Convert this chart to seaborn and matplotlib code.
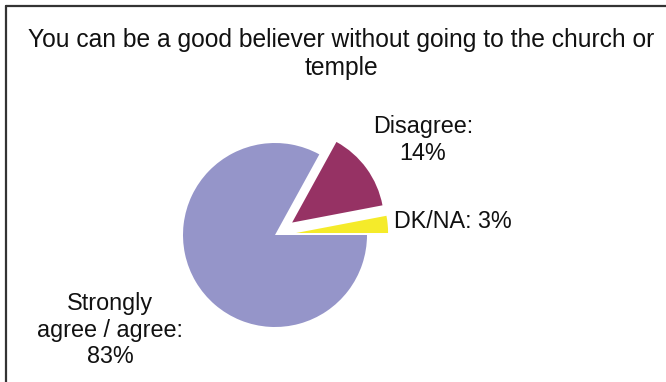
import matplotlib
matplotlib.use("Agg")
import matplotlib.pyplot as plt
from matplotlib.lines import Line2D
import seaborn as sns

# Survey answers, in drawing order (counter-clockwise from 3 o'clock)
categories = ["DK/NA", "Disagree", "Strongly\nagree / agree"]
shares = [3, 14, 83]
label_breaks = [" ", "\n", "\n"]
title = "You can be a good believer without going to the church or\ntemple"

explode_by = [0.23, 0.23, 0.0]
slice_colors = ["#F5EB2A", "#963264", "#9595C9"]

sns.set_theme(style="white")
plt.rcParams["font.family"] = ["Liberation Sans", "DejaVu Sans"]

W, H = 666, 382
fig = plt.figure(figsize=(W / 100, H / 100), dpi=100)
ax = fig.add_axes([0, 0, 1, 1])

ax.pie(
    shares,
    explode=explode_by,
    colors=sns.color_palette(slice_colors),
    startangle=0,
    counterclock=True,
    wedgeprops=dict(linewidth=0),
)

# pie radius and centre in pixels
R = 92.0
cx, cy = 275.0, 235.0
ax.set_xlim(-cx / R, (W - cx) / R)
ax.set_ylim(-(H - cy) / R, cy / R)
ax.set_aspect("equal", adjustable="box")
ax.axis("off")


def px(x, y):
    return (x - cx) / R, (cy - y) / R


label_pos = [(394, 221), (423, 140), (110, 330)]
label_ha = ["left", "center", "center"]
for cat, val, brk, (lx, ly), ha in zip(categories, shares, label_breaks, label_pos, label_ha):
    ax.text(*px(lx, ly), f"{cat}:{brk}{val}%", ha=ha, va="center",
            fontsize=16.8, color="#111111", linespacing=1.2)

fig.text(341 / W, 1 - 54 / H, title, ha="center", va="center",
         fontsize=17.7, color="#111111", linespacing=1.18)

# frame lines along the top and left edges
fig.add_artist(Line2D([6 / W, 1], [1 - 6 / H, 1 - 6 / H], transform=fig.transFigure,
                      color="#333333", linewidth=1.6))
fig.add_artist(Line2D([6 / W, 6 / W], [0, 1 - 6 / H], transform=fig.transFigure,
                      color="#333333", linewidth=1.6))

fig.savefig("out.png", dpi=100)
